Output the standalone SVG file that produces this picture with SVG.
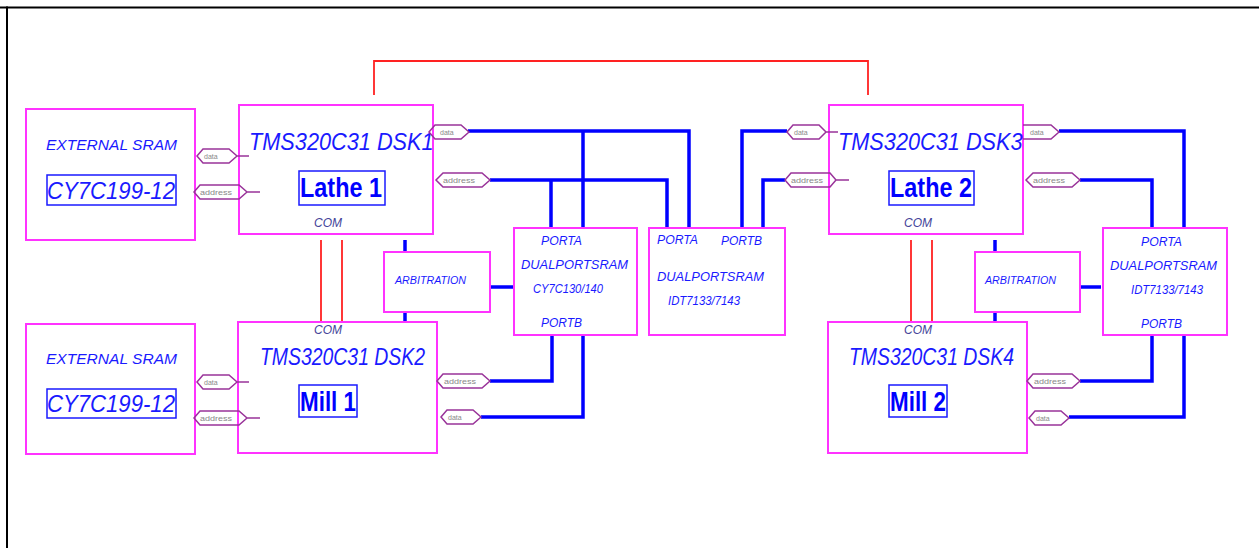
<svg xmlns="http://www.w3.org/2000/svg" width="1259" height="548" viewBox="0 0 1259 548">
<style>
text{font-family:"Liberation Sans",Arial,sans-serif;font-style:italic;fill:#1a1aff}
.box{fill:none;stroke:#ff33ff;stroke-width:2}
.inner{fill:none;stroke:#1a1aff;stroke-width:1.5}
.blue{fill:none;stroke:#0000ff;stroke-width:3.5}
.red{fill:none;stroke:#ff2222;stroke-width:1.8}
.tag{fill:none;stroke:#993399;stroke-width:1.5}
.tagt{font-size:7px;font-style:normal;fill:#888888}
.title{font-size:24px}
.ext{font-size:14px}
.cy{font-size:24px}
.bold{font-size:27px;font-weight:bold;font-style:normal;fill:#0000ff}
.com{font-size:12px;fill:#444499}
.port{font-size:12px}
.arb{font-size:10px}
</style>
<rect id="frame-top" x="0" y="6.500" width="1259" height="2" fill="#000"/>
<rect id="frame-left" x="6" y="6.500" width="2" height="542" fill="#000"/>
<g id="connectors">
<path class="red" d="M374 95V61H868V95"/>
<path class="red" d="M321 240V322M342 240V322M911 240V322M932 240V322"/>
<path class="blue" d="M468 131H689V228M583 131V228M490 180H667V228M551 180V228"/>
<path class="blue" d="M405 240V252M405 312V322M490 287H513"/>
<path class="blue" d="M552 334V381H490M583 334V417H481"/>
<path class="blue" d="M742 228V131H787M763 228V180H785"/>
<path class="blue" d="M1059 131H1184V228M1080 180H1152V228"/>
<path class="blue" d="M995 240V252M995 312V322M1080 287H1101"/>
<path class="blue" d="M1152 334V381H1080M1184 334V417H1069"/>
</g>
<g id="ext1"><rect class="box" x="26" y="109" width="169" height="131"/><text class="ext" x="46" y="150" textLength="131" lengthAdjust="spacingAndGlyphs">EXTERNAL SRAM</text><rect class="inner" x="47" y="175" width="129" height="30"/><text class="cy" x="47" y="199" textLength="128" lengthAdjust="spacingAndGlyphs">CY7C199-12</text></g>
<g id="ext2"><rect class="box" x="26" y="324" width="169" height="130"/><text class="ext" x="46" y="364" textLength="131" lengthAdjust="spacingAndGlyphs">EXTERNAL SRAM</text><rect class="inner" x="47" y="389" width="129" height="29"/><text class="cy" x="47" y="412" textLength="128" lengthAdjust="spacingAndGlyphs">CY7C199-12</text></g>
<g id="dsk1"><rect class="box" x="239" y="105" width="194" height="129"/><text class="title" transform="translate(249 150) scale(0.905 1)">TMS320C31 DSK1</text><rect class="inner" x="299" y="171" width="86" height="34"/><text class="bold" x="300" y="197" textLength="82" lengthAdjust="spacingAndGlyphs">Lathe 1</text><text class="com" x="314" y="227" textLength="28" lengthAdjust="spacingAndGlyphs">COM</text></g>
<g id="dsk2"><rect class="box" x="238" y="322" width="199" height="131"/><text class="com" x="314" y="334" textLength="28" lengthAdjust="spacingAndGlyphs">COM</text><text class="title" x="260" y="365" textLength="165" lengthAdjust="spacingAndGlyphs">TMS320C31 DSK2</text><rect class="inner" x="299" y="385" width="58" height="32"/><text class="bold" x="300" y="411" textLength="56" lengthAdjust="spacingAndGlyphs">Mill 1</text></g>
<g id="dsk3"><rect class="box" x="829" y="105" width="194" height="129"/><text class="title" transform="translate(838 150) scale(0.905 1)">TMS320C31 DSK3</text><rect class="inner" x="889" y="171" width="85" height="34"/><text class="bold" x="890" y="197" textLength="82" lengthAdjust="spacingAndGlyphs">Lathe 2</text><text class="com" x="904" y="227" textLength="28" lengthAdjust="spacingAndGlyphs">COM</text></g>
<g id="dsk4"><rect class="box" x="828" y="322" width="199" height="131"/><text class="com" x="904" y="334" textLength="28" lengthAdjust="spacingAndGlyphs">COM</text><text class="title" x="849" y="365" textLength="165" lengthAdjust="spacingAndGlyphs">TMS320C31 DSK4</text><rect class="inner" x="889" y="385" width="58" height="32"/><text class="bold" x="890" y="411" textLength="56" lengthAdjust="spacingAndGlyphs">Mill 2</text></g>
<g id="arb1"><rect class="box" x="384" y="252" width="106" height="60"/><text class="arb" x="395" y="284" textLength="71" lengthAdjust="spacingAndGlyphs">ARBITRATION</text></g>
<g id="arb2"><rect class="box" x="975" y="252" width="105" height="60"/><text class="arb" x="985" y="284" textLength="71" lengthAdjust="spacingAndGlyphs">ARBITRATION</text></g>
<g id="sram1"><rect class="box" x="514" y="228" width="123" height="107"/><text class="port" x="541" y="245" textLength="41" lengthAdjust="spacingAndGlyphs">PORTA</text><text class="port" x="521" y="269" textLength="107" lengthAdjust="spacingAndGlyphs">DUALPORTSRAM</text><text class="port" x="533" y="293" textLength="70" lengthAdjust="spacingAndGlyphs">CY7C130/140</text><text class="port" x="541" y="327" textLength="41" lengthAdjust="spacingAndGlyphs">PORTB</text></g>
<g id="sram2"><rect class="box" x="649" y="228" width="136" height="107"/><text class="port" x="657" y="244" textLength="41" lengthAdjust="spacingAndGlyphs">PORTA</text><text class="port" x="721" y="245" textLength="41" lengthAdjust="spacingAndGlyphs">PORTB</text><text class="port" x="657" y="281" textLength="107" lengthAdjust="spacingAndGlyphs">DUALPORTSRAM</text><text class="port" x="668" y="305" textLength="72" lengthAdjust="spacingAndGlyphs">IDT7133/7143</text></g>
<g id="sram3"><rect class="box" x="1103" y="228" width="124" height="107"/><text class="port" x="1141" y="246" textLength="41" lengthAdjust="spacingAndGlyphs">PORTA</text><text class="port" x="1110" y="270" textLength="107" lengthAdjust="spacingAndGlyphs">DUALPORTSRAM</text><text class="port" x="1131" y="294" textLength="72" lengthAdjust="spacingAndGlyphs">IDT7133/7143</text><text class="port" x="1141" y="328" textLength="41" lengthAdjust="spacingAndGlyphs">PORTB</text></g>
<g id="tags">
<path class="tag" d="M197 156l6-7h26l8 7-8 7h-26zM237 156h12"/><text class="tagt" x="204" y="159">data</text>
<path class="tag" d="M194 192l6-7h39l8 7-8 7h-39zM247 192h13"/><text class="tagt" x="200" y="195" textLength="32" lengthAdjust="spacingAndGlyphs">address</text>
<path class="tag" d="M197 382l6-7h26l8 7-8 7h-26zM237 382h12"/><text class="tagt" x="204" y="385">data</text>
<path class="tag" d="M194 418l6-7h39l8 7-8 7h-39zM247 418h13"/><text class="tagt" x="200" y="421" textLength="32" lengthAdjust="spacingAndGlyphs">address</text>
<path class="tag" d="M429 132l6-7h26l8 7-8 7h-26z"/><text class="tagt" x="440" y="135">data</text>
<path class="tag" d="M436 180l7-7h39l8 7-8 7h-39z"/><text class="tagt" x="443" y="183" textLength="32" lengthAdjust="spacingAndGlyphs">address</text>
<path class="tag" d="M437 381l6-7h39l8 7-8 7h-39z"/><text class="tagt" x="444" y="384" textLength="32" lengthAdjust="spacingAndGlyphs">address</text>
<path class="tag" d="M441 417l6-7h26l8 7-8 7h-26z"/><text class="tagt" x="448" y="420">data</text>
<path class="tag" d="M787 132l6-7h26l7 7-7 7h-26zM826 132h12"/><text class="tagt" x="794" y="135">data</text>
<path class="tag" d="M785 180l6-7h39l6 7-6 7h-39zM836 180h13"/><text class="tagt" x="791" y="183" textLength="32" lengthAdjust="spacingAndGlyphs">address</text>
<path class="tag" d="M1023 125h28l8 7-8 7h-28"/><text class="tagt" x="1030" y="135">data</text>
<path class="tag" d="M1026 180l7-7h39l8 7-8 7h-39z"/><text class="tagt" x="1033" y="183" textLength="32" lengthAdjust="spacingAndGlyphs">address</text>
<path class="tag" d="M1027 381l6-7h39l8 7-8 7h-39z"/><text class="tagt" x="1034" y="384" textLength="32" lengthAdjust="spacingAndGlyphs">address</text>
<path class="tag" d="M1029 418l6-7h26l8 7-8 7h-26z"/><text class="tagt" x="1036" y="421">data</text>
</g>
</svg>
